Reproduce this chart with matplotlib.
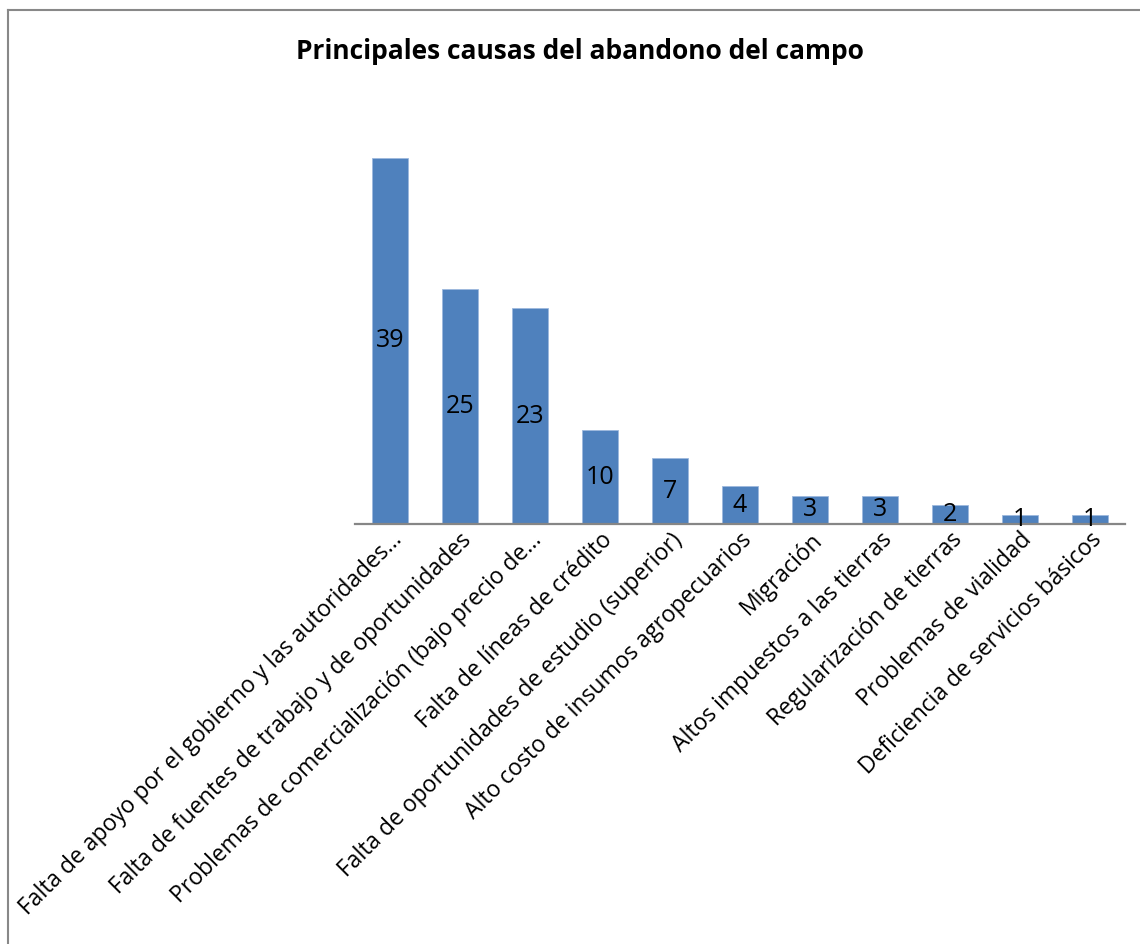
import numpy as np
import matplotlib.pyplot as plt
from matplotlib.lines import Line2D

causas = [
    "Falta de apoyo por el gobierno y las autoridades…",
    "Falta de fuentes de trabajo y de oportunidades",
    "Problemas de comercialización (bajo precio de…",
    "Falta de líneas de crédito",
    "Falta de oportunidades de estudio (superior)",
    "Alto costo de insumos agropecuarios",
    "Migración",
    "Altos impuestos a las tierras",
    "Regularización de tierras",
    "Problemas de vialidad",
    "Deficiencia de servicios básicos",
]
valores = [39, 25, 23, 10, 7, 4, 3, 3, 2, 1, 1]

plt.rcParams['font.family'] = ['Open Sans', 'DejaVu Sans']

fig = plt.figure(figsize=(11.4, 9.44), dpi=100)
ax = fig.add_axes([0.3114, 0.4449, 0.9868 - 0.3114, 0.8625 - 0.4449])

x = np.arange(len(causas))
barras = ax.bar(x, valores, width=0.515, color='#4F81BD', edgecolor='#9DB9DD', linewidth=0.6)
ax.bar_label(barras, labels=[str(v) for v in valores], label_type='center', fontsize=18, color='black')

ax.set_xlim(-0.5, len(causas) - 0.5)
ax.set_ylim(0, 42)
ax.set_yticks([])
for s in ['top', 'right', 'left']:
    ax.spines[s].set_visible(False)
ax.spines['bottom'].set_color('#868686')
ax.spines['bottom'].set_linewidth(1.6)
ax.set_xticks(x)
ax.set_xticklabels(causas, rotation=45, ha='right', va='top', rotation_mode='anchor', fontsize=16.5)
ax.tick_params(axis='x', length=0, pad=3)

fig.text(0.509, 0.945, "Principales causas del abandono del campo", ha='center', va='center',
         fontsize=19, fontweight='bold')

# borde del area del grafico
fig.add_artist(Line2D([0.0066, 0.0066], [0, 0.9894], color='#888888', lw=1.5, transform=fig.transFigure))
fig.add_artist(Line2D([0.0066, 1], [0.9894, 0.9894], color='#888888', lw=1.5, transform=fig.transFigure))

fig.savefig("out.png", dpi=100)
